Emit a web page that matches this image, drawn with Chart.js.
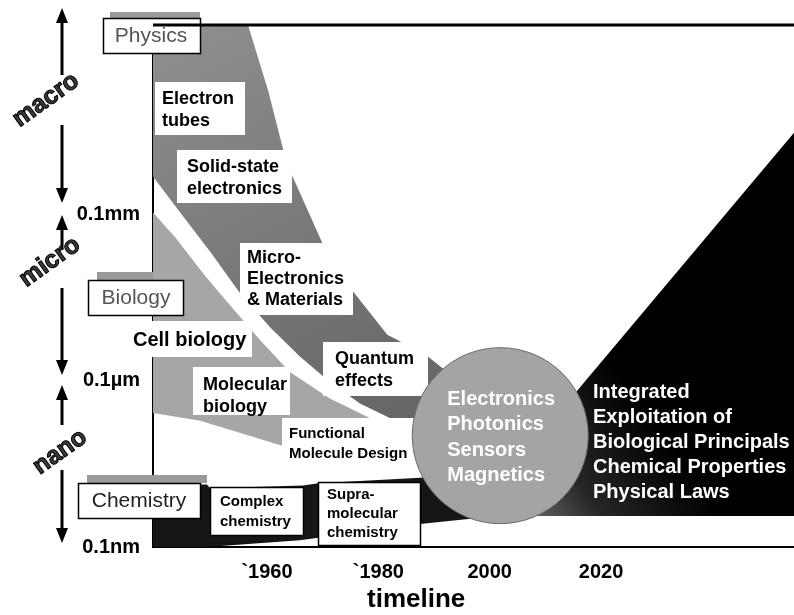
<!DOCTYPE html>
<html>
<head>
<meta charset="utf-8">
<script src="https://cdn.jsdelivr.net/npm/chart.js@4.4.1/dist/chart.umd.min.js"></script>
<style>
  html, body { margin: 0; padding: 0; background: #fff; }
  #wrap { width: 794px; height: 615px; }
</style>
</head>
<body>
<div id="wrap"><canvas id="chart" width="794" height="615"></canvas></div>
<script>
// axis ticks (y is log10 of the size in metres)
const sizeTicks = [-10, -7, -4];
const sizeLabels = ["0.1nm", "0.1µm", "0.1mm"];
const yearTicks = [1960, 1980, 2000, 2020];
const yearLabels = ["`1960", "`1980", "2000", "2020"];

// physics / electronics band (top-down)
const physicsYears = [1939.5, 1956.6, 1960.2, 1963.2, 1964.5, 1970.1, 1975.4, 1981.6, 1985.1, 1988.9, 1992.9, 1996.5,
  1991.1, 1983.9, 1976.7, 1971.3, 1965.9, 1960.5, 1955.1, 1949.8, 1944.4, 1939.5];
const physicsSizes = [-0.58, -0.58, -1.76, -2.94, -3.29, -4.55, -5.38, -6.17, -6.35, -6.56, -6.88, -7.41,
  -7.97, -7.76, -7.41, -7.02, -6.56, -6.03, -5.41, -4.67, -3.96, -3.31];

// biology band
const biologyYears = [1939.5, 1943.5, 1948.9, 1953.4, 1958.7, 1964.1, 1971.3, 1980.3, 1989.3,
  1989.3, 1971.3, 1962.3, 1948.0, 1939.5];
const biologySizes = [-3.96, -4.41, -5.11, -5.64, -6.26, -6.84, -7.32, -7.76, -8.15,
  -8.38, -8.29, -8.16, -7.72, -7.58];

// chemistry band (bottom-up)
const chemYears = [1939.5, 1949.2, 1949.8, 1966.5, 1969.2, 1987.5, 1996.5, 1998.3, 1998.3, 1987.1, 1965.9, 1949.2, 1939.5];
const chemSizes = [-8.87, -8.87, -8.94, -8.89, -8.85, -8.75, -8.64, -8.64, -9.47, -9.59, -9.88, -10, -10];

// integrated exploitation wedge
const integratedYears = [2054.7, 1996.8, 2054.7];
const integratedSizes = [-2.52, -9.44, -9.44];

// the convergence circle
const hubYears = [2001.9];
const hubSizes = [-7.99];

const hubLines = ["Electronics", "Photonics", "Sensors", "Magnetics"];
const integratedLines = ["Integrated", "Exploitation of", "Biological Principals", "Chemical Properties", "Physical Laws"];

const FONT = 'Arial, "Liberation Sans", sans-serif';
Chart.defaults.font.family = FONT;

const toPoints = (xs, ys) => xs.map((x, i) => ({ x: x, y: ys[i] }));

// label boxes (pixel layout)
const boxes = [
  { x: 103, y: 18, w: 97, h: 35, lines: ["Physics"], font: "21px " + FONT, color: "#555", align: "center", tx: 151, ty: 36, lh: 0, border: true },
  { x: 155, y: 82, w: 90, h: 53, lines: ["Electron", "tubes"], font: "bold 18px " + FONT, tx: 162, ty: 99, lh: 22 },
  { x: 177, y: 150, w: 115, h: 53, lines: ["Solid-state", "electronics"], font: "bold 18px " + FONT, tx: 187, ty: 167, lh: 22 },
  { x: 240, y: 243, w: 113, h: 72, lines: ["Micro-", "Electronics", "& Materials"], font: "bold 18px " + FONT, tx: 247, ty: 258, lh: 21 },
  { x: 88, y: 280, w: 95, h: 35, lines: ["Biology"], font: "21px " + FONT, color: "#555", align: "center", tx: 136, ty: 298, lh: 0, border: true },
  { x: 128, y: 321, w: 124, h: 36, lines: ["Cell biology"], font: "bold 20px " + FONT, tx: 133, ty: 340, lh: 0 },
  { x: 323, y: 342, w: 105, h: 54, lines: ["Quantum", "effects"], font: "bold 18px " + FONT, tx: 335, ty: 359, lh: 22 },
  { x: 193, y: 367, w: 97, h: 48, lines: ["Molecular", "biology"], font: "bold 18px " + FONT, tx: 203, ty: 385, lh: 22 },
  { x: 282, y: 418, w: 148, h: 49, lines: ["Functional", "Molecule Design"], font: "bold 15px " + FONT, tx: 289, ty: 434, lh: 20 },
  { x: 78, y: 483, w: 122, h: 35, lines: ["Chemistry"], font: "21px " + FONT, color: "#222", align: "center", tx: 139, ty: 501, lh: 0, border: true },
  { x: 210, y: 487, w: 93, h: 48, lines: ["Complex", "chemistry"], font: "bold 15px " + FONT, tx: 220, ty: 502, lh: 20, border: true },
  { x: 318, y: 482, w: 102, h: 63, lines: ["Supra-", "molecular", "chemistry"], font: "bold 15px " + FONT, tx: 327, ty: 495, lh: 19, border: true }
];
const shades = [[110, 12, 90, 6], [97, 272, 86, 8], [87, 475, 120, 8]];
const arrows = [[62, 75, 8], [62, 125, 203], [62, 250, 215], [62, 288, 375], [62, 425, 385], [62, 470, 543]];
const scaleWords = [["macro", 46, 100], ["micro", 50, 262], ["nano", 60, 452]];

function drawArrow(ctx, x, y0, y1) {
  const dir = Math.sign(y1 - y0);
  ctx.strokeStyle = "#000";
  ctx.lineWidth = 3;
  ctx.beginPath();
  ctx.moveTo(x, y0);
  ctx.lineTo(x, y1 - dir * 12);
  ctx.stroke();
  ctx.fillStyle = "#000";
  ctx.beginPath();
  ctx.moveTo(x, y1);
  ctx.lineTo(x - 6, y1 - dir * 15);
  ctx.lineTo(x + 6, y1 - dir * 15);
  ctx.closePath();
  ctx.fill();
}

const HUB_INDEX = 4;

const decor = {
  id: "decor",
  beforeDatasetsDraw(chart) {
    const ctx = chart.ctx;
    ctx.save();
    ctx.fillStyle = "#9a9a9a";
    shades.forEach(s => ctx.fillRect(s[0], s[1], s[2], s[3]));
    ctx.restore();
  },
  beforeDatasetDraw(chart, args) {
    if (args.index !== HUB_INDEX) return;
    const ctx = chart.ctx;
    ctx.save();
    boxes.forEach(b => {
      ctx.fillStyle = "#fff";
      ctx.fillRect(b.x, b.y, b.w, b.h);
      if (b.border) {
        ctx.strokeStyle = "#000";
        ctx.lineWidth = 1.5;
        ctx.strokeRect(b.x + 0.5, b.y + 0.5, b.w, b.h);
      }
      ctx.fillStyle = b.color || "#000";
      ctx.font = b.font;
      ctx.textAlign = b.align || "left";
      ctx.textBaseline = "middle";
      b.lines.forEach((t, i) => ctx.fillText(t, b.tx, b.ty + i * b.lh));
    });
    ctx.restore();
  },
  afterDatasetsDraw(chart) {
    const ctx = chart.ctx;
    const { x, y } = chart.scales;
    const area = chart.chartArea;
    ctx.save();
    // top frame line
    ctx.strokeStyle = "#000";
    ctx.lineWidth = 3;
    ctx.beginPath();
    ctx.moveTo(area.left, area.top);
    ctx.lineTo(area.right, area.top);
    ctx.stroke();

    // circle text
    ctx.fillStyle = "#fff";
    ctx.font = "bold 20px " + FONT;
    ctx.textAlign = "left";
    ctx.textBaseline = "middle";
    const hx = x.getPixelForValue(hubYears[0]) - 53;
    const hy = y.getPixelForValue(hubSizes[0]) - 36;
    hubLines.forEach((t, i) => ctx.fillText(t, hx, hy + i * 25.3));

    // wedge text
    integratedLines.forEach((t, i) => ctx.fillText(t, 593, 392 + i * 25));

    // size arrows and words
    arrows.forEach(a => drawArrow(ctx, a[0], a[1], a[2]));
    ctx.font = "bold 25px " + FONT;
    ctx.textAlign = "center";
    ctx.fillStyle = "#3a3a3a";
    ctx.strokeStyle = "#000";
    ctx.lineWidth = 1;
    scaleWords.forEach(w => {
      ctx.save();
      ctx.translate(w[1], w[2]);
      ctx.rotate(-0.62);
      ctx.fillText(w[0], 0, 0);
      ctx.strokeText(w[0], 0, 0);
      ctx.restore();
    });

    // axis title
    ctx.fillStyle = "#000";
    ctx.font = "bold 26px " + FONT;
    ctx.fillText("timeline", x.getPixelForValue(1986.8), 600);
    ctx.restore();
  }
};

const band = (label, xs, ys, color, order) => ({
  label: label,
  data: toPoints(xs, ys),
  fill: "shape",
  backgroundColor: color,
  borderWidth: 0,
  pointRadius: 0,
  tension: 0,
  order: order
});

// darker towards the bottom, like the dithered original
const physicsFill = (c) => {
  if (!c.chart.chartArea) return "#808080";
  const g = c.chart.ctx.createLinearGradient(200, 20, 420, 420);
  g.addColorStop(0, "#8e8e8e");
  g.addColorStop(1, "#656565");
  return g;
};

const integratedFill = (c) => {
  if (!c.chart.chartArea) return "#000";
  const g = c.chart.ctx.createLinearGradient(480, 515, 640, 400);
  g.addColorStop(0, "#8f8f8f");
  g.addColorStop(0.5, "#262626");
  g.addColorStop(1, "#000");
  return g;
};

new Chart(document.getElementById("chart"), {
  type: "line",
  data: {
    datasets: [
      band("Physics", physicsYears, physicsSizes, physicsFill, 3),
      band("Biology", biologyYears, biologySizes, "#a6a6a6", 3),
      band("Chemistry", chemYears, chemSizes, "#161616", 4),
      band("Integrated", integratedYears, integratedSizes, integratedFill, 5),
      {
        label: "Hub",
        data: toPoints(hubYears, hubSizes),
        showLine: false,
        pointRadius: 88,
        pointBackgroundColor: "#a4a4a4",
        pointBorderColor: "#6a6a6a",
        pointBorderWidth: 1,
        order: 0
      }
    ]
  },
  options: {
    responsive: false,
    animation: false,
    events: [],
    devicePixelRatio: 1,
    layout: { autoPadding: false, padding: { top: 13, right: 0, bottom: 0, left: 0 } },
    plugins: {
      legend: { display: false },
      tooltip: { enabled: false }
    },
    scales: {
      x: {
        type: "linear",
        min: 1939.52,
        max: 2054.67,
        z: 1,
        grid: { display: false, drawTicks: false },
        border: { display: true, color: "#000", width: 2 },
        afterBuildTicks: (axis) => { axis.ticks = yearTicks.map(v => ({ value: v })); },
        afterFit: (axis) => { axis.height = 68; },
        ticks: {
          autoSkip: false,
          maxRotation: 0,
          padding: 13,
          color: "#000",
          font: { size: 20, weight: "bold" },
          callback: (v) => yearLabels[yearTicks.indexOf(v)]
        }
      },
      y: {
        type: "linear",
        min: -10,
        max: -0.577,
        z: 1,
        grid: { display: false, drawTicks: false },
        border: { display: true, color: "#000", width: 2 },
        afterBuildTicks: (axis) => { axis.ticks = sizeTicks.map(v => ({ value: v })); },
        afterFit: (axis) => { axis.width = 153; },
        ticks: {
          autoSkip: false,
          padding: 13,
          color: "#000",
          font: { size: 20, weight: "bold" },
          callback: (v) => sizeLabels[sizeTicks.indexOf(v)]
        }
      }
    }
  },
  plugins: [decor]
});
</script>
</body>
</html>
